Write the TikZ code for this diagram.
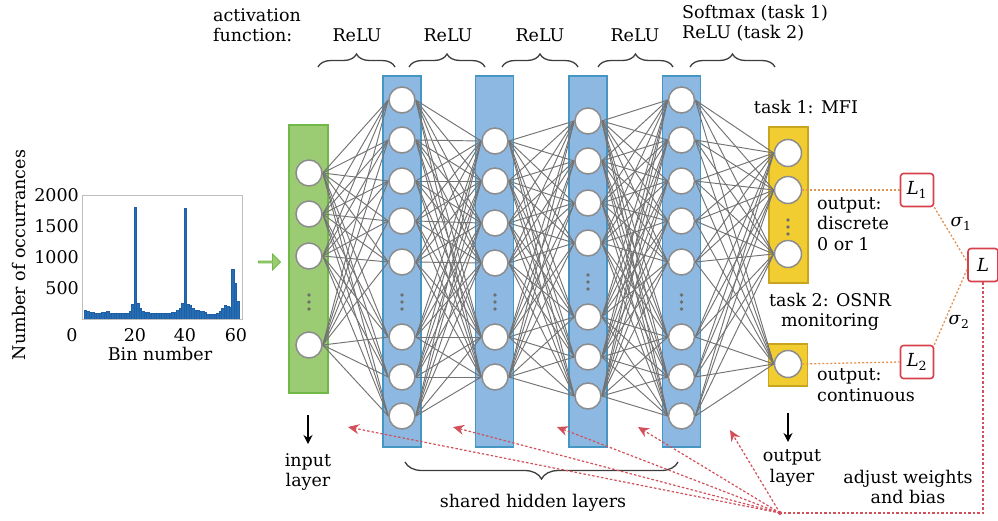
\documentclass[tikz,border=0pt]{standalone}
\usepackage{fontspec}
\setmainfont{DejaVu Serif}
\usetikzlibrary{arrows.meta,decorations.pathreplacing,shapes.arrows,calc}
\pgfdeclarelayer{bg}\pgfdeclarelayer{mid}\pgfsetlayers{bg,mid,main}
\definecolor{gfill}{RGB}{155,203,115}\definecolor{gdraw}{RGB}{112,184,72}
\definecolor{bfill}{RGB}{140,184,226}\definecolor{bdraw}{RGB}{70,150,195}
\definecolor{yfill}{RGB}{242,205,50}\definecolor{ydraw}{RGB}{200,165,30}
\definecolor{redc}{RGB}{215,65,75}\definecolor{redarr}{RGB}{210,80,90}
\definecolor{orangec}{RGB}{225,145,80}\definecolor{histc}{RGB}{38,110,180}
\definecolor{histd}{RGB}{30,95,165}
\definecolor{linec}{RGB}{115,115,115}\definecolor{circc}{RGB}{140,140,140}
\definecolor{dotc}{RGB}{110,110,110}\definecolor{bracec}{RGB}{60,60,60}
\definecolor{axisc}{RGB}{190,190,190}
\begin{document}
\begin{tikzpicture}[x=1pt,y=-1pt,
 lbl/.style={font=\fontsize{17.5}{20.5}\selectfont, inner sep=0pt, align=center},
 lbll/.style={lbl, align=left},
 neuron/.style={circle, draw=circc, line width=1.5pt, fill=white, minimum size=26pt, inner sep=0pt},
 layerbox/.style={draw=bdraw, fill=bfill, line width=1.2pt, minimum width=38pt, inner sep=0pt},
 inbox/.style={draw=gdraw, fill=gfill, line width=1.2pt, minimum width=39pt, inner sep=0pt},
 outbox/.style={draw=ydraw, fill=yfill, line width=1.2pt, minimum width=39pt, inner sep=0pt},
 conn/.style={draw=linec, line width=0.95pt},
 lossbox/.style={draw=redc, line width=1.6pt, rounded corners=3pt, fill=white, minimum width=33pt, minimum height=33pt, inner sep=0pt, font=\fontsize{18}{20}\selectfont},
 orangedot/.style={draw=orangec, line width=1.3pt, dash pattern=on 2pt off 2pt},
 reddot/.style={draw=redarr, line width=1.2pt, dash pattern=on 2.5pt off 2pt},
 redarrow/.style={reddot, -{Stealth[length=11pt,width=10pt]}},
 downarrow/.style={draw=black, line width=1.5pt, -{Stealth[length=9pt,width=9pt]}},
 bracetop/.style={draw=bracec, line width=1.3pt, decorate, decoration={brace, amplitude=13pt}},
 bracebot/.style={draw=bracec, line width=1.3pt, decorate, decoration={brace, amplitude=17pt, mirror}},
 histbar/.style={fill=histc, draw=histd, line width=0.4pt},
 vdot/.style={fill=dotc}
]
\useasboundingbox (0,0) rectangle (998,520);

% ---------------- histogram ----------------
\foreach \b/\c in {0/150,1/130,2/110,3/105,4/100,5/100,6/100,7/105,8/110,9/120,10/100,11/95,12/90,13/88,14/88,15/88,16/92,17/100,18/130,19/240,20/1800,21/250,22/170,23/120,24/110,25/105,26/100,27/98,28/95,29/92,30/92,31/92,32/92,33/95,34/98,35/105,36/115,37/135,38/180,39/250,40/1780,41/240,42/230,43/170,44/145,45/135,46/130,47/120,48/105,49/82,50/80,51/80,52/85,53/100,54/130,55/170,56/230,57/200,58/190,59/800,60/580,61/280}
  \path[histbar] (84+2.5*\b,319) rectangle ++(2.5,-0.062*\c);
\draw[draw=axisc, line width=0.8pt] (82,195) rectangle (242,319);
\node[lbl, anchor=east] (t2000) at (79,195) {2000};
\node[lbl, anchor=east] (t1500) at (79,226) {1500};
\node[lbl, anchor=east] (t1000) at (79,257) {1000};
\node[lbl, anchor=east] (t500) at (79,288) {500};
\node[lbl] (x0) at (72,335) {0};
\node[lbl] (x20) at (135,335) {20};
\node[lbl] (x40) at (185,335) {40};
\node[lbl] (x60) at (236,335) {60};
\node[lbl] (xlab) at (160,354) {Bin number};
\node[lbl, rotate=90] (ylab) at (19,255) {Number of occurrances};
\node[single arrow, fill=gfill, draw=gdraw, line width=0.8pt, minimum height=22pt, minimum width=16pt, single arrow head extend=3pt, inner sep=0pt] (garrow) at (269,262) {};

% ---------------- layer boxes ----------------
\begin{pgfonlayer}{bg}
\node[inbox, minimum height=268pt] (IN) at (308.5,259) {};
\node[layerbox, minimum height=371pt] (H1) at (402,261.5) {};
\node[layerbox, minimum height=371pt] (H2) at (494.5,261.5) {};
\node[layerbox, minimum height=371pt] (H3) at (588,261.5) {};
\node[layerbox, minimum height=371pt] (H4) at (681.5,261.5) {};
\node[outbox, minimum height=156pt] (O1) at (788.5,205) {};
\node[outbox, minimum height=42pt] (O2) at (788,365) {};
\end{pgfonlayer}

% ---------------- neurons ----------------
\foreach \y [count=\i] in {173,214,256,345} \node[neuron] (i\i) at (309,\y) {};
\foreach \y [count=\i] in {100,140,181,221,262,337,377,416} \node[neuron] (a\i) at (402,\y) {};
\foreach \y [count=\i] in {141,181,223,263,337,377} \node[neuron] (b\i) at (495,\y) {};
\foreach \y [count=\i] in {121,161,203,243,317,357,396} \node[neuron] (c\i) at (588,\y) {};
\foreach \y [count=\i] in {100,140,181,221,262,337,377,416} \node[neuron] (d\i) at (681.5,\y) {};
\foreach \y [count=\i] in {153,190,254} \node[neuron, minimum size=27pt] (o\i) at (788,\y) {};
\node[neuron, minimum size=27pt] (p1) at (788,364) {};

% vertical dots
\foreach \x/\y in {309/302,402/302,495/302,588/282,681.5/302,788/227}
  \foreach \d in {-7,0,7} \fill[vdot] (\x,\y+\d) circle (1.9);

% ---------------- connections ----------------
\begin{pgfonlayer}{mid}
\foreach \i in {1,...,4} \foreach \j in {1,...,8} \draw[conn] (i\i.east) -- (a\j.west);
\foreach \i in {1,...,8} \foreach \j in {1,...,6} \draw[conn] (a\i.east) -- (b\j.west);
\foreach \i in {1,...,6} \foreach \j in {1,...,7} \draw[conn] (b\i.east) -- (c\j.west);
\foreach \i in {1,...,7} \foreach \j in {1,...,8} \draw[conn] (c\i.east) -- (d\j.west);
\foreach \i in {1,...,8} {
  \foreach \j in {1,...,3} \draw[conn] (d\i.east) -- (o\j.west);
  \draw[conn] (d\i.east) -- (p1.west);
}
\end{pgfonlayer}

% ---------------- top labels ----------------
\node[lbll, anchor=west] (act) at (213,25) {activation\\function:};
\node[lbl] (r1) at (357,35) {ReLU};
\node[lbl] (r2) at (448,35) {ReLU};
\node[lbl] (r3) at (540,35) {ReLU};
\node[lbl] (r4) at (635,35) {ReLU};
\node[lbll, anchor=west] (smx) at (682,23) {Softmax (task 1)\\ReLU (task 2)};
\coordinate (bt1a) at (318,67); \coordinate (bt1b) at (395,67);
\coordinate (bt2a) at (409,67); \coordinate (bt2b) at (485,67);
\coordinate (bt3a) at (502,67); \coordinate (bt3b) at (578,67);
\coordinate (bt4a) at (598,67); \coordinate (bt4b) at (673,67);
\coordinate (bt5a) at (690,67); \coordinate (bt5b) at (775,67);
\foreach \k in {1,...,5} \draw[bracetop] (bt\k a) -- (bt\k b);

% ---------------- output labels ----------------
\node[lbl] (task1) at (806,107) {task 1: MFI};
\node[lbll, anchor=west] (outd) at (817,224) {output:\\discrete\\0 or 1};
\node[lbl] (task2) at (830,312) {task 2: OSNR\\monitoring};
\node[lbll, anchor=west] (outc) at (817,385) {output:\\continuous};

% ---------------- losses ----------------
\node[lossbox] (L1) at (917,190) {\textit{L}\textsubscript{1}};
\node[lossbox] (L2) at (917,362) {\textit{L}\textsubscript{2}};
\node[lossbox, minimum width=30pt] (L) at (983,265) {\textit{L}};
\draw[orangedot] (o2.east) -- (L1.west);
\draw[orangedot] (p1.east) -- (L2.west);
\draw[orangedot] (L1.south east) -- ($(L.west)+(0,-3)$);
\draw[orangedot] (L2.north east) -- ($(L.west)+(0,4)$);
\node[lbl] (s1) at (961,224) {\textit{σ}\textsubscript{1}};
\node[lbl] (s2) at (959,322) {\textit{σ}\textsubscript{2}};

% ---------------- bottom ----------------
\coordinate (ia0) at (308,415); \coordinate (ia1) at (308,444);
\coordinate (oa0) at (788,413); \coordinate (oa1) at (788,442);
\draw[downarrow] (ia0) -- (ia1);
\draw[downarrow] (oa0) -- (oa1);
\node[lbl] (inl) at (308,472) {input\\layer};
\node[lbl] (outl) at (792,468) {output\\layer};
\node[lbl] (adj) at (908,487) {adjust weights\\and bias};
\coordinate (bba) at (405,462); \coordinate (bbb) at (678,462);
\draw[bracebot] (bba) -- (bbb);
\node[lbl] (shl) at (533,503) {shared hidden layers};

\coordinate (src) at (780,513);
\coordinate (t1) at (348,427);
\coordinate (t2) at (453,427);
\coordinate (t3) at (557,427);
\coordinate (t4) at (638,427);
\coordinate (t5) at (730,430);
\foreach \k in {1,...,5} \draw[redarrow] (src) -- (t\k);
\draw[reddot] (L.south) |- (src);
\fill[redarr] (src) circle (2);
\end{tikzpicture}
\end{document}
